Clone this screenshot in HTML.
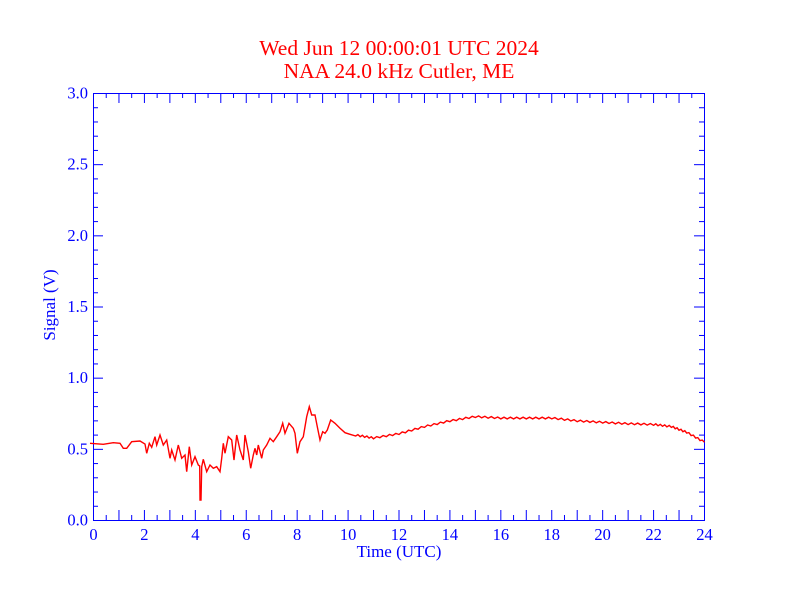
<!DOCTYPE html>
<html><head><meta charset="utf-8"><style>body{margin:0;background:#fff}svg{display:block}</style></head>
<body>
<svg width="792" height="612" xmlns="http://www.w3.org/2000/svg" font-family="Liberation Serif, serif">
<rect width="792" height="612" fill="#fff"/>
<text x="399" y="55" fill="#f00" font-size="21.5" text-anchor="middle">Wed Jun 12 00:00:01 UTC 2024</text>
<text x="399" y="78" fill="#f00" font-size="21.5" text-anchor="middle">NAA 24.0 kHz Cutler, ME</text>
<g id="ticks" stroke="#00f" stroke-width="1"></g>
<rect x="93.5" y="93.5" width="611" height="427" fill="none" stroke="#00f" stroke-width="1"/>
<g fill="#00f" font-size="16.5" id="labels"></g>
<text x="399" y="557" fill="#00f" font-size="17" text-anchor="middle">Time (UTC)</text>
<text transform="translate(55,305) rotate(-90)" fill="#00f" font-size="17" text-anchor="middle">Signal (V)</text>
<polyline id="data" fill="none" stroke="#f00" stroke-width="1.4" points=""/>
</svg>
<script>
var ns="http://www.w3.org/2000/svg",t=document.getElementById("ticks"),L=document.getElementById("labels");
function ln(x1,y1,x2,y2){var l=document.createElementNS(ns,"line");l.setAttribute("x1",x1);l.setAttribute("y1",y1);l.setAttribute("x2",x2);l.setAttribute("y2",y2);t.appendChild(l);}
function tx(x,y,s,a){var e=document.createElementNS(ns,"text");e.setAttribute("x",x);e.setAttribute("y",y);e.setAttribute("text-anchor",a);e.textContent=s;L.appendChild(e);}
for(var i=0;i<=48;i++){var x=93.5+i*611/48,len=(i%2==0)?10:5;ln(x,520,x,520-len);ln(x,93,x,93+len);if(i%4==0)tx(x,540,String(i/2),"middle");}
for(var j=0;j<=30;j++){var y=520.5-j*427/30,len=(j%5==0)?10:5;ln(93,y,93+len,y);ln(704,y,704-len,y);if(j%5==0)tx(88,y+5,(j/10).toFixed(1),"end");}
var z=[[0,160],[40,163],[70,158],[90,160],[100,175],[110,175],[125,155],[150,153],[165,162],[170,190],[178,160],[185,172],[195,140],[200,165],[210,135],[220,165],[230,150],[240,205],[245,180],[255,210],[265,165],[275,205],[285,195],[290,245],[298,170],[305,225],[315,200],[325,225],[329,228],[330,330],[333,330],[335,230],[340,208],[350,245],[360,225],[370,235],[380,230],[390,245],[395,205],[400,160],[405,190],[415,140],[425,150],[432,210],[440,135],[450,180],[460,210],[465,135],[475,185],[482,235],[490,195],[495,175],[500,195],[505,165],[515,205],[520,180],[530,165],[540,145],[550,155],[560,140],[570,125],[578,100],[585,130],[597,100],[610,115],[615,130],[622,190],[630,155],[640,140],[650,80],[658,50],[665,75],[675,75],[682,110],[690,150],[698,125],[705,130],[712,120],[722,90],[735,100],[750,115],[765,128],[780,133]];
var p=z.map(function(a){return (90+a[0]/3).toFixed(1)+","+(390+a[1]/3).toFixed(1)});
var h=[[10.3,0.6],[11,0.58],[12,0.61],[13,0.66],[14,0.7],[15,0.73],[16,0.72],[17,0.72],[18,0.72],[19,0.7],[20,0.69],[21,0.68],[22,0.675],[22.7,0.66],[23.3,0.62],[24,0.55]];
for(var k=0;k<h.length-1;k++){for(var s=0;s<8;s++){var f=s/8,hh=h[k][0]+(h[k+1][0]-h[k][0])*f,v=h[k][1]+(h[k+1][1]-h[k][1])*f+((s%2)?0.006:-0.006);p.push((93.5+hh*611/24).toFixed(1)+","+(520.5-v*427/3).toFixed(1));}}
p.push((93.5+24*611/24).toFixed(1)+","+(520.5-0.55*427/3).toFixed(1));
document.getElementById("data").setAttribute("points",p.join(" "));
</script>
</body></html>
